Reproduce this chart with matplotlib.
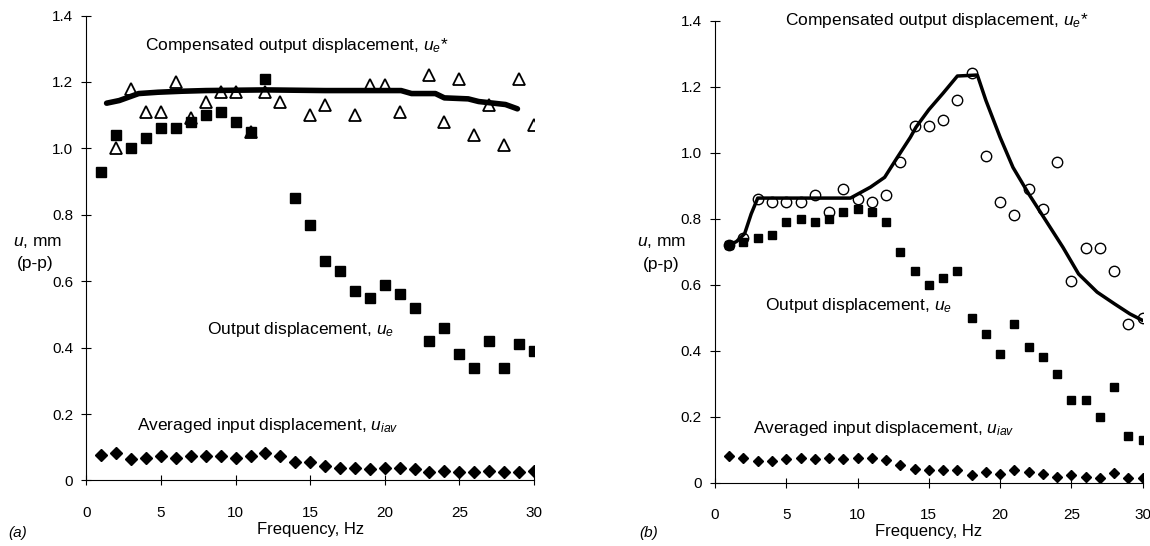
import matplotlib
matplotlib.use("Agg")
import matplotlib.pyplot as plt

plt.rcParams['font.family'] = ['Liberation Sans', 'DejaVu Sans']
plt.rcParams['mathtext.fontset'] = 'custom'
plt.rcParams['mathtext.rm'] = 'Liberation Sans'
plt.rcParams['mathtext.it'] = 'Liberation Sans:italic'

## DONNEES ##
# (a) deplacement de sortie compense (triangles)
fa_comp = [2, 3, 4, 5, 6, 7, 8, 9, 10, 11, 12, 13, 15, 16, 18, 19, 20, 21, 23, 24, 25, 26, 27, 28, 29, 30]
ua_comp = [1.00, 1.18, 1.11, 1.11, 1.20, 1.09, 1.14, 1.17, 1.17, 1.05, 1.17, 1.14, 1.10, 1.13, 1.10, 1.19,
           1.19, 1.11, 1.22, 1.08, 1.21, 1.04, 1.13, 1.01, 1.21, 1.07]
# (a) deplacement de sortie (carres)
fa_out = [1, 2, 3, 4, 5, 6, 7, 8, 9, 10, 11, 12, 14, 15, 16, 17, 18, 19, 20, 21, 22, 23, 24, 25, 26, 27, 28, 29, 30]
ua_out = [0.93, 1.04, 1.00, 1.03, 1.06, 1.06, 1.08, 1.10, 1.11, 1.08, 1.05, 1.21, 0.85, 0.77, 0.66, 0.63,
          0.57, 0.55, 0.59, 0.56, 0.52, 0.42, 0.46, 0.38, 0.34, 0.42, 0.34, 0.41, 0.39]
# (a) deplacement d'entree moyen (losanges)
fa_in = list(range(1, 31))
ua_in = [0.077, 0.084, 0.064, 0.069, 0.074, 0.069, 0.074, 0.074, 0.074, 0.069, 0.074, 0.082, 0.074, 0.057,
         0.057, 0.045, 0.037, 0.037, 0.034, 0.037, 0.039, 0.034, 0.027, 0.029, 0.027, 0.027, 0.029, 0.027,
         0.027, 0.029]
# (a) courbe compensee
fa_line = [1.35, 2.2, 3.5, 4.8, 6.4, 8, 12, 16, 21.1, 21.8, 23.4, 24.0, 25.6, 26.3, 28.1, 28.9]
ua_line = [1.136, 1.144, 1.165, 1.169, 1.172, 1.174, 1.176, 1.174, 1.174, 1.165, 1.165, 1.152, 1.149,
           1.141, 1.132, 1.119]

# (b) deplacement de sortie compense (cercles)
fb_comp = list(range(1, 31))
ub_comp = [0.72, 0.74, 0.86, 0.85, 0.85, 0.85, 0.87, 0.82, 0.89, 0.86, 0.85, 0.87, 0.97, 1.08, 1.08, 1.10,
           1.16, 1.24, 0.99, 0.85, 0.81, 0.89, 0.83, 0.97, 0.61, 0.71, 0.71, 0.64, 0.48, 0.50]
# (b) deplacement de sortie (carres)
fb_out = list(range(1, 31))
ub_out = [0.72, 0.73, 0.74, 0.75, 0.79, 0.80, 0.79, 0.80, 0.82, 0.83, 0.82, 0.79, 0.70, 0.64, 0.60, 0.62,
          0.64, 0.50, 0.45, 0.39, 0.48, 0.41, 0.38, 0.33, 0.25, 0.25, 0.20, 0.29, 0.14, 0.13]
# (b) deplacement d'entree moyen (losanges)
fb_in = list(range(1, 31))
ub_in = [0.080, 0.075, 0.066, 0.066, 0.071, 0.074, 0.071, 0.074, 0.071, 0.074, 0.074, 0.069, 0.054, 0.042,
         0.038, 0.038, 0.038, 0.022, 0.032, 0.027, 0.038, 0.032, 0.025, 0.018, 0.022, 0.018, 0.015, 0.030,
         0.013, 0.013]
# (b) courbe compensee
fb_line = [1.0, 1.5, 2.08, 2.54, 3.0, 9.5, 10.9, 11.9, 12.8, 13.7, 14.1, 15.0, 16.0, 17.0, 18.4, 19.0,
           20.0, 20.9, 22.0, 23.2, 24.4, 25.5, 26.8, 28.0, 29.1, 30.0]
ub_line = [0.72, 0.73, 0.754, 0.814, 0.862, 0.862, 0.895, 0.925, 0.986, 1.046, 1.077, 1.13, 1.18, 1.232,
           1.235, 1.158, 1.046, 0.955, 0.875, 0.794, 0.713, 0.632, 0.577, 0.542, 0.511, 0.491]

xticks = [0, 5, 10, 15, 20, 25, 30]
yticks = [0, 0.2, 0.4, 0.6, 0.8, 1.0, 1.2, 1.4]
ylabels = ["0", "0.2", "0.4", "0.6", "0.8", "1.0", "1.2", "1.4"]


## FONCTIONS ##
def prepAxe(ax):
    """ axes comme dans la figure : seulement gauche et bas, ticks traversants """
    ax.spines['top'].set_visible(False)
    ax.spines['right'].set_visible(False)
    ax.spines['left'].set_linewidth(0.8)
    ax.spines['bottom'].set_linewidth(0.8)
    ax.set_xlim(0, 30)
    ax.set_ylim(0, 1.4)
    ax.set_xticks(xticks)
    ax.set_yticks(yticks)
    ax.set_yticklabels(ylabels)
    ax.tick_params(direction='inout', length=7, width=0.8, labelsize=11)
    ax.tick_params(axis='y', pad=6)
    ax.tick_params(axis='x', pad=15)
    ax.set_xlabel("Frequency, Hz", fontsize=12, labelpad=1)


fig = plt.figure(figsize=(11.5, 5.46), dpi=100)

# panneau (a)
ax1 = fig.add_axes([0.0752, 0.12, 0.389, 0.8516])
prepAxe(ax1)
ax1.plot(fa_comp, ua_comp, linestyle='none', marker='^', ms=9, mfc='white', mec='black', mew=1.3)
ax1.plot(fa_out, ua_out, linestyle='none', marker='s', ms=6.5, color='black')
ax1.plot(fa_in, ua_in, linestyle='none', marker='D', ms=6.5, color='black')
ax1.plot(fa_line, ua_line, color='black', lw=4, solid_capstyle='round', zorder=5)
ax1.text(3.9, 1.31, "Compensated output displacement, $u_e$*", fontsize=12.5, va='center')
ax1.text(8.1, 0.455, "Output displacement, $u_e$", fontsize=12.5, va='center')
ax1.text(3.4, 0.165, "Averaged input displacement, $u_{iav}$", fontsize=12.5, va='center')
fig.text(0.011, 0.555, "$u$, mm", fontsize=12.5, va='center')
fig.text(0.0148, 0.518, "(p-p)", fontsize=12.5, va='center')
fig.text(0.007, 0.024, "(a)", fontsize=11, style='italic', va='center')

# panneau (b)
ax2 = fig.add_axes([0.6217, 0.1163, 0.372, 0.846])
prepAxe(ax2)
ax2.plot(fb_comp, ub_comp, linestyle='none', marker='o', ms=7.5, mfc='white', mec='black', mew=1.0)
ax2.plot(fb_out, ub_out, linestyle='none', marker='s', ms=6, color='black')
ax2.plot(fb_in, ub_in, linestyle='none', marker='D', ms=5.5, color='black')
ax2.plot(fb_line, ub_line, color='black', lw=2.5, solid_capstyle='round', zorder=5)
ax2.text(4.9, 1.40, "Compensated output displacement, $u_e$*", fontsize=12.5, va='center')
ax2.text(3.5, 0.535, "Output displacement, $u_e$", fontsize=12.5, va='center')
ax2.text(2.7, 0.165, "Averaged input displacement, $u_{iav}$", fontsize=12.5, va='center')
fig.text(0.554, 0.555, "$u$, mm", fontsize=12.5, va='center')
fig.text(0.559, 0.515, "(p-p)", fontsize=12.5, va='center')
fig.text(0.556, 0.024, "(b)", fontsize=11, style='italic', va='center')

plt.savefig("out.png", dpi=100)
plt.close()
